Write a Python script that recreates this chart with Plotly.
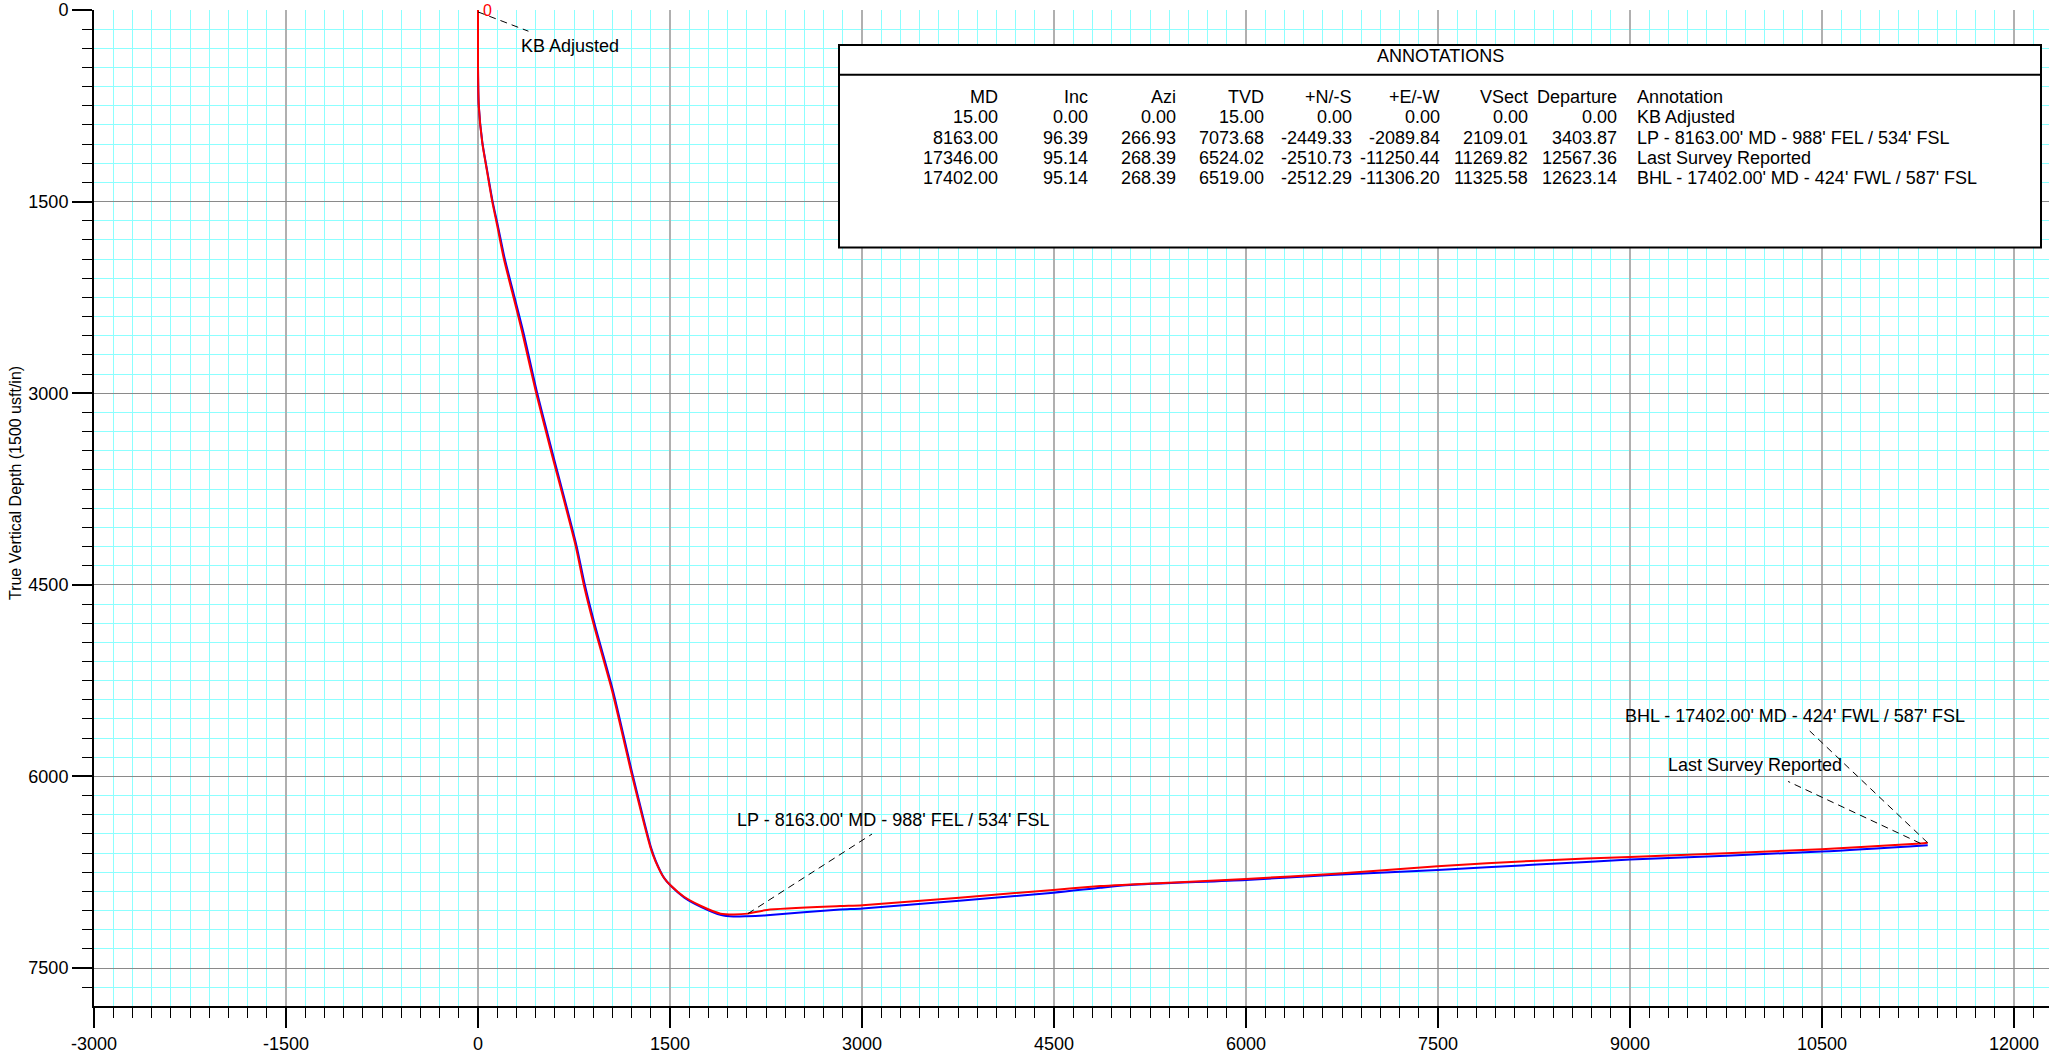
import plotly.graph_objects as go

# ---------------- data ----------------
# Actual wellbore (red): vertical section (usft) vs TVD (usft)
act_vs = [0, 0, 6, 33, 72, 111, 150, 202, 267, 345, 454, 565, 761, 826, 904, 1048,
          1204, 1347, 1386, 1452, 1504, 1607, 1738, 1895, 2000, 2109.01, 2258, 2830,
          3004, 4496, 4863, 5095, 6000, 6700, 7497, 8273, 9000, 10496, 11269.82, 11325.58]
act_tvd = [0, 440, 750, 1037, 1271, 1498, 1688, 1948, 2208, 2520, 2997, 3432, 4187, 4497,
           4811, 5331, 5995, 6555, 6662, 6793, 6852, 6940, 7012, 7074, 7080, 7073.68, 7045,
           7015, 7008, 6888, 6858, 6846, 6802, 6762, 6703, 6659, 6630, 6570, 6524.02, 6519.00]

# Plan (blue)
plan_vs = [0, 0, 6, 34, 74, 114, 155, 209, 275, 354, 462, 573, 768, 834, 912, 1055,
           1210, 1351, 1390, 1455, 1506, 1612, 1745, 1900, 1995, 2100, 2258, 2830, 3004,
           4496, 4863, 5095, 6000, 6660, 7497, 8273, 9000, 10496, 11326]
plan_tvd = [0, 440, 750, 1037, 1271, 1498, 1688, 1948, 2208, 2520, 2997, 3432, 4187, 4497,
            4811, 5331, 5995, 6555, 6664, 6796, 6856, 6948, 7022, 7085, 7096, 7094, 7086,
            7041, 7033, 6910, 6871, 6850, 6810, 6771, 6732, 6690, 6651, 6588, 6538]

# Annotation table
tbl_headers = ["MD", "Inc", "Azi", "TVD", "+N/-S", "+E/-W", "VSect", "Departure"]
md = [15.00, 8163.00, 17346.00, 17402.00]
inc = [0.00, 96.39, 95.14, 95.14]
azi = [0.00, 266.93, 268.39, 268.39]
tvd = [15.00, 7073.68, 6524.02, 6519.00]
ns = [0.00, -2449.33, -2510.73, -2512.29]
ew = [0.00, -2089.84, -11250.44, -11306.20]
vsect = [0.00, 2109.01, 11269.82, 11325.58]
departure = [0.00, 3403.87, 12567.36, 12623.14]
annot_text = ["KB Adjusted",
              "LP - 8163.00' MD - 988' FEL / 534' FSL",
              "Last Survey Reported",
              "BHL - 17402.00' MD - 424' FWL / 587' FSL"]

# label placement (data units): leader-line end and text anchor (left, middle)
lead_end = [(394, 166), (3078, 6451), (10235, 6039), (10404, 5644)]
text_pos = [(320, 283), (2010, 6342), (9278, 5909), (8948, 5527)]

x_ticks = list(range(-3000, 12001, 1500))
y_ticks = list(range(0, 7501, 1500))

# ---------------- layout geometry ----------------
W, H = 2049, 1054
ML, MR, MT, MB = 94, 0, 10, 46
PW, PH = W - ML - MR, H - MT - MB
UPP = 7.8125  # usft per pixel (1500 usft per 192 px)
x_range = [-3000, -3000 + PW * UPP]
y_range = [PH * UPP, 0]


def px_x(px):
    return (px - ML) / PW


def px_y(py):
    return (H - MB - py) / PH


FONT = "Liberation Sans, Arial, sans-serif"

fig = go.Figure()

fig.add_trace(go.Scatter(x=plan_vs, y=plan_tvd, mode="lines",
                         line=dict(color="#0000ff", width=2, shape="spline", smoothing=0.7),
                         name="Plan", hoverinfo="skip"))
fig.add_trace(go.Scatter(x=act_vs, y=act_tvd, mode="lines",
                         line=dict(color="#ff0000", width=2, shape="spline", smoothing=0.7),
                         name="Actual", hoverinfo="skip"))

annotations = []
for i in range(len(annot_text)):
    x0, y0 = vsect[i], tvd[i]
    x1, y1 = lead_end[i]
    fig.add_trace(go.Scatter(x=[x0, x1], y=[y0, y1], mode="lines",
                             line=dict(color="black", width=1, dash="7px,5px"),
                             hoverinfo="skip", showlegend=False))
    tx, ty = text_pos[i]
    annotations.append(dict(x=tx, y=ty, xref="x", yref="y", text=annot_text[i],
                            showarrow=False, xanchor="left", yanchor="middle",
                            font=dict(family=FONT, size=18, color="black")))

# red "0" start marker label
annotations.append(dict(x=act_vs[0], y=act_tvd[0], xref="x", yref="y", text="0",
                        showarrow=False, xanchor="left", yanchor="middle", xshift=3,
                        font=dict(family=FONT, size=16, color="#ff0000")))

# y-axis title
annotations.append(dict(x=px_x(15), y=px_y(484), xref="paper", yref="paper",
                        text="True Vertical Depth (1500 usft/in)", textangle=-90,
                        showarrow=False, xanchor="center", yanchor="middle",
                        font=dict(family=FONT, size=16, color="black")))

# table box
bx0, bx1, by0, by1, bsep = 839, 2041, 45, 248, 75
shapes = [
    dict(type="rect", xref="paper", yref="paper", x0=px_x(bx0), x1=px_x(bx1),
         y0=px_y(by1), y1=px_y(by0), fillcolor="white",
         line=dict(color="black", width=2), layer="above"),
    dict(type="line", xref="paper", yref="paper", x0=px_x(bx0), x1=px_x(bx1),
         y0=px_y(bsep), y1=px_y(bsep), line=dict(color="black", width=2), layer="above"),
]
annotations.append(dict(x=px_x((bx0 + bx1) / 2), y=px_y(56), xref="paper", yref="paper",
                        text="ANNOTATIONS", showarrow=False, xanchor="center",
                        yanchor="middle", font=dict(family=FONT, size=18, color="black")))

col_right = [1000, 1090, 1178, 1266, 1354, 1442, 1530, 1619]
ann_left = 1635
row_y0, row_dy = 97, 20.4
cols = [md, inc, azi, tvd, ns, ew, vsect, departure]
for j, h in enumerate(tbl_headers):
    annotations.append(dict(x=px_x(col_right[j]), y=px_y(row_y0), xref="paper",
                            yref="paper", text=h, showarrow=False, xanchor="right",
                            yanchor="middle", font=dict(family=FONT, size=18, color="black")))
annotations.append(dict(x=px_x(ann_left), y=px_y(row_y0), xref="paper", yref="paper",
                        text="Annotation", showarrow=False, xanchor="left",
                        yanchor="middle", font=dict(family=FONT, size=18, color="black")))
for i in range(len(md)):
    ry = row_y0 + row_dy * (i + 1)
    for j, col in enumerate(cols):
        annotations.append(dict(x=px_x(col_right[j]), y=px_y(ry), xref="paper",
                                yref="paper", text=f"{col[i]:.2f}", showarrow=False,
                                xanchor="right", yanchor="middle",
                                font=dict(family=FONT, size=18, color="black")))
    annotations.append(dict(x=px_x(ann_left), y=px_y(ry), xref="paper", yref="paper",
                            text=annot_text[i], showarrow=False, xanchor="left",
                            yanchor="middle", font=dict(family=FONT, size=18, color="black")))

axis_common = dict(
    ticks="outside", ticklen=20, tickwidth=2, tickcolor="black",
    showline=True, linecolor="black", linewidth=2, zeroline=False,
    tickfont=dict(family=FONT, size=18, color="black"),
    tickmode="array",
    minor=dict(dtick=150, tick0=0, ticks="outside", ticklen=10, tickwidth=1,
               tickcolor="black", showgrid=True, gridcolor="#8cffff", gridwidth=1),
)

fig.update_layout(
    width=W, height=H,
    margin=dict(l=ML, r=MR, t=MT, b=MB, pad=0),
    paper_bgcolor="white", plot_bgcolor="white",
    showlegend=False,
    xaxis=dict(range=x_range, tickvals=x_ticks, ticktext=[str(v) for v in x_ticks],
               showgrid=True, gridcolor="#b0b0b0", gridwidth=2, **axis_common),
    yaxis=dict(range=y_range, tickvals=y_ticks, ticktext=[str(v) for v in y_ticks],
               showgrid=True, gridcolor="#8a8a8a", gridwidth=1, **axis_common),
    annotations=annotations,
    shapes=shapes,
)

fig.write_html("out.html", config={"displayModeBar": False},
               post_script="document.body.style.margin='0';document.body.style.overflow='hidden';")
